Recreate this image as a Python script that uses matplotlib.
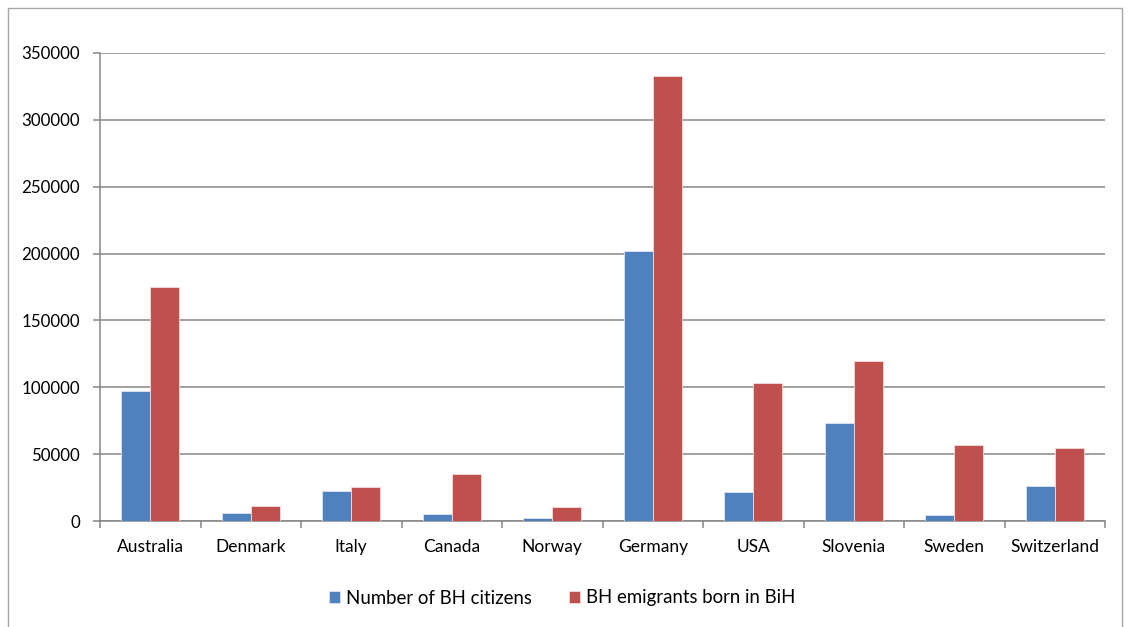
import matplotlib
matplotlib.use("Agg")
import matplotlib.pyplot as plt
from matplotlib.patches import Rectangle
import numpy as np

countries = ["Australia", "Denmark", "Italy", "Canada", "Norway",
             "Germany", "USA", "Slovenia", "Sweden", "Switzerland"]
citizens = [97500, 6000, 22500, 5500, 2250, 201700, 21500, 73500, 4500, 26200]
emigrants = [175000, 11300, 25500, 35500, 10300, 333000, 103000, 119700, 56600, 54800]
series_names = ["Number of BH citizens", "BH emigrants born in BiH"]
yticks = [0, 50000, 100000, 150000, 200000, 250000, 300000, 350000]

plt.rcParams['font.family'] = ['Lato', 'DejaVu Sans']

W, H = 1131, 627
fig = plt.figure(figsize=(W / 100, H / 100), dpi=100)
ax = fig.add_axes([100 / W, 1 - 521 / H, 1005 / W, 468 / H])

# outer chart frame
fig.patches.append(Rectangle((8 / W, -0.05), (W - 9) / W - 8 / W, 1 - 8 / H + 0.05,
                             transform=fig.transFigure, fill=False,
                             edgecolor="#a6a6a6", linewidth=1.0))

x = np.arange(len(countries))
bw = 0.29
blue, red = "#4f81bd", "#c0504d"
ax.bar(x - bw / 2, citizens, bw, color=blue, edgecolor="#dce6f2", linewidth=0.6,
       label=series_names[0], zorder=3)
ax.bar(x + bw / 2, emigrants, bw, color=red, edgecolor="#f2dcdb", linewidth=0.6,
       label=series_names[1], zorder=3)

ax.set_xlim(-0.5, len(countries) - 0.5)
ax.set_ylim(0, 350000)
ax.set_yticks(yticks)
ax.set_yticklabels([str(v) for v in yticks])
ax.yaxis.grid(True, color="#868686", linewidth=1.1, zorder=0)
ax.set_axisbelow(True)

for s in ["top", "right"]:
    ax.spines[s].set_visible(False)
for s in ["left", "bottom"]:
    ax.spines[s].set_color("#868686")
    ax.spines[s].set_linewidth(1.1)

ax.set_xticks(x)
ax.set_xticklabels(countries)
ax.tick_params(axis="x", length=0, pad=13, labelsize=12.5, colors="#000000")
ax.set_xticks(np.arange(len(countries) + 1) - 0.5, minor=True)
ax.tick_params(axis="x", which="minor", length=5, color="#868686", width=1.1)
ax.tick_params(axis="y", length=5, color="#868686", width=1.1, pad=9.5, labelsize=12.2)

fig.legend(loc="center", bbox_to_anchor=(562 / W, 1 - 598 / H), ncol=2, frameon=False,
           fontsize=13.4, handlelength=0.6, handleheight=0.6, handletextpad=0.3,
           columnspacing=2.0)

fig.savefig("out.png", dpi=100)
